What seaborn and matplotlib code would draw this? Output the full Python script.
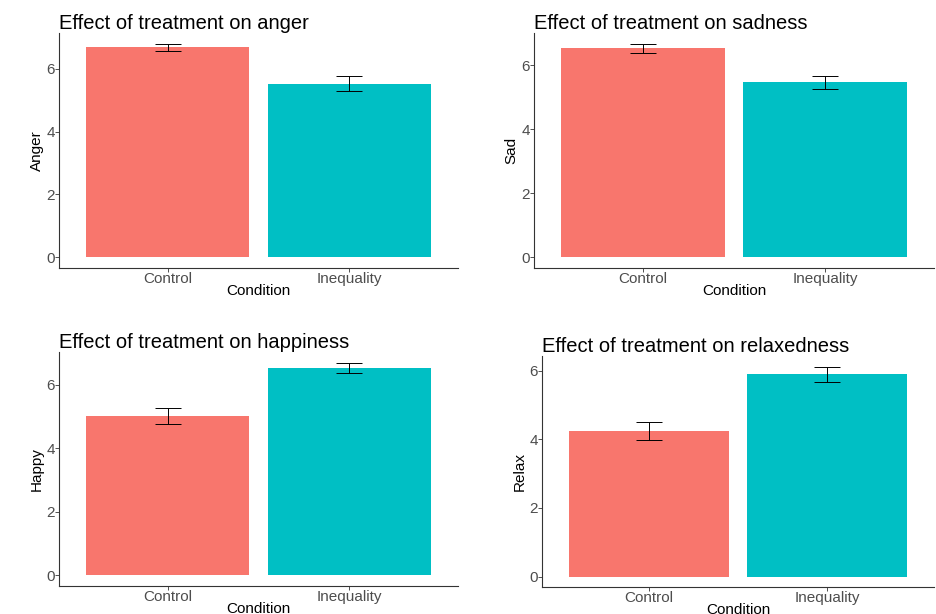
import matplotlib
matplotlib.use("Agg")
import matplotlib.pyplot as plt
import pandas as pd
import seaborn as sns

# Values (mean and error bar limits per condition)
conditions = ["Control", "Inequality"]

anger_mean = [6.68, 5.53]
anger_lo = [6.56, 5.28]
anger_hi = [6.80, 5.78]

sad_mean = [6.52, 5.47]
sad_lo = [6.37, 5.25]
sad_hi = [6.67, 5.67]

happy_mean = [5.00, 6.51]
happy_lo = [4.76, 6.35]
happy_hi = [5.26, 6.69]

relax_mean = [4.24, 5.90]
relax_lo = [3.99, 5.67]
relax_hi = [4.51, 6.12]

panels = [
    ("Effect of treatment on anger", "Anger", anger_mean, anger_lo, anger_hi),
    ("Effect of treatment on sadness", "Sad", sad_mean, sad_lo, sad_hi),
    ("Effect of treatment on happiness", "Happy", happy_mean, happy_lo, happy_hi),
    ("Effect of treatment on relaxedness", "Relax", relax_mean, relax_lo, relax_hi),
]

PALETTE = {"Control": "#F8766D", "Inequality": "#00BFC4"}

sns.set_theme(style="white")
plt.rcParams["font.family"] = ["Liberation Sans", "DejaVu Sans"]

W, H = 937, 614
fig = plt.figure(figsize=(W / 100, H / 100), dpi=100)

# axes boxes in pixels: left, top, right, bottom
boxes = [
    (59, 33, 458, 268),
    (534, 33, 934, 268),
    (59, 352, 458, 586),
    (542, 356, 934, 587),
]

for (title, ylab, mean, lo, hi), (l, t, r, b) in zip(panels, boxes):
    ax = fig.add_axes([l / W, 1 - b / H, (r - l) / W, (b - t) / H])
    df = pd.DataFrame({"Condition": conditions, ylab: mean})

    sns.barplot(
        data=df,
        x="Condition",
        y=ylab,
        hue="Condition",
        palette=PALETTE,
        order=conditions,
        width=0.9,
        errorbar=None,
        legend=False,
        edgecolor="none",
        saturation=1,
        ax=ax,
    )

    ax.errorbar(
        [0, 1],
        mean,
        yerr=[[m - x for m, x in zip(mean, lo)], [x - m for m, x in zip(mean, hi)]],
        fmt="none",
        ecolor="black",
        elinewidth=0.7,
        capsize=9.5,
        capthick=0.7,
    )

    top = max(hi)
    ax.set_ylim(-0.05 * top, top * 1.05)
    ax.set_xlim(-0.6, 1.6)
    ax.set_yticks([0, 2, 4, 6])

    sns.despine(ax=ax)
    for side in ["left", "bottom"]:
        ax.spines[side].set_color("#333333")
        ax.spines[side].set_linewidth(0.8)

    ax.tick_params(axis="both", which="both", length=3, width=0.6, color="#333333",
                   labelsize=11, labelcolor="#4D4D4D", pad=0,
                   left=True, bottom=True)
    ax.set_xlabel("Condition", fontsize=11, color="black", labelpad=-1.5)
    ax.set_ylabel(ylab, fontsize=11, color="black", labelpad=2)
    ax.set_title(title, loc="left", fontsize=14.5, color="black", pad=3)

fig.savefig("out.png", dpi=100)
